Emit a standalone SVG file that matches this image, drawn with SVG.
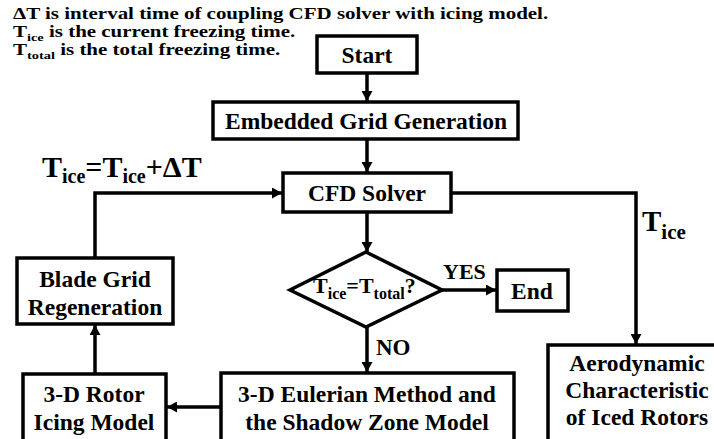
<svg xmlns="http://www.w3.org/2000/svg" width="714" height="439" viewBox="0 0 714 439">
<defs>
<marker id="arr" markerUnits="userSpaceOnUse" markerWidth="11" markerHeight="11" refX="10" refY="5.5" orient="auto">
<path d="M0,0 L10,5.5 L0,11 z" fill="#000"/>
</marker>
</defs>
<rect width="714" height="439" fill="#fff"/>

<g id="legend" transform="translate(13,0) scale(1.31,1)">
<text font-family="Liberation Serif" font-weight="bold" font-size="16" x="0" y="19">&#916;T is interval time of coupling CFD solver with icing model.</text>
<text font-family="Liberation Serif" font-weight="bold" font-size="16" x="0" y="37">T<tspan font-size="11" dy="4">ice</tspan><tspan dy="-4"> is the current freezing time.</tspan></text>
<text font-family="Liberation Serif" font-weight="bold" font-size="16" x="0" y="55">T<tspan font-size="11" dy="4">total</tspan><tspan dy="-4"> is the total freezing time.</tspan></text>
</g>

<g id="connectors" fill="none" stroke="#000" stroke-width="3.5">
<line x1="367" y1="73" x2="367" y2="101" marker-end="url(#arr)"/>
<line x1="367" y1="139" x2="367" y2="172" marker-end="url(#arr)"/>
<line x1="367" y1="212" x2="367" y2="252" marker-end="url(#arr)"/>
<line x1="442" y1="290" x2="496" y2="290" marker-end="url(#arr)"/>
<line x1="367" y1="327" x2="367" y2="372" marker-end="url(#arr)"/>
<line x1="221" y1="407" x2="167" y2="407" marker-end="url(#arr)"/>
<line x1="95" y1="374" x2="95" y2="325" marker-end="url(#arr)"/>
<polyline points="95,258 95,193 282,193" marker-end="url(#arr)"/>
<polyline points="451,193 636,193 636,344" marker-end="url(#arr)"/>
</g>
<g id="connector-labels" font-family="Liberation Serif" font-weight="bold" fill="#000">
<text font-family="Liberation Serif" font-weight="bold" x="42" y="177" font-size="30">T<tspan font-size="20" dy="6">ice</tspan><tspan dy="-6">=T</tspan><tspan font-size="20" dy="6">ice</tspan><tspan dy="-6">+&#916;T</tspan></text>
<text font-family="Liberation Serif" font-weight="bold" x="642" y="231" font-size="29">T<tspan font-size="21" dy="8">ice</tspan></text>
<text font-family="Liberation Serif" font-weight="bold" x="443" y="279" font-size="22">YES</text>
<text font-family="Liberation Serif" font-weight="bold" x="376" y="355" font-size="23">NO</text>
</g>

<g id="start">
<rect fill="#fff" stroke="#000" stroke-width="3.5" x="317" y="36" width="100" height="37"/>
<text font-family="Liberation Serif" font-weight="bold" font-size="23.5" text-anchor="middle" x="367" y="63">Start</text>
</g>
<g id="embedded">
<rect fill="#fff" stroke="#000" stroke-width="3.5" x="213" y="102" width="305" height="37"/>
<text font-family="Liberation Serif" font-weight="bold" font-size="23.5" text-anchor="middle" x="366" y="129">Embedded Grid Generation</text>
</g>
<g id="cfd">
<rect fill="#fff" stroke="#000" stroke-width="3.5" x="283" y="173" width="168" height="39"/>
<text font-family="Liberation Serif" font-weight="bold" font-size="23.5" text-anchor="middle" x="367" y="201">CFD Solver</text>
</g>
<g id="decision">
<polygon fill="#fff" stroke="#000" stroke-width="3.5" points="366,252 442,290 366,327 290,290"/>
<text font-family="Liberation Serif" font-weight="bold" x="313" y="293" font-size="22">T<tspan font-size="16" dy="6">ice</tspan><tspan dy="-6">=T</tspan><tspan font-size="16" dy="6">total</tspan><tspan dy="-6">?</tspan></text>
</g>
<g id="end">
<rect fill="#fff" stroke="#000" stroke-width="3.5" x="497" y="270" width="71" height="41"/>
<text font-family="Liberation Serif" font-weight="bold" font-size="23.5" text-anchor="middle" x="532" y="299">End</text>
</g>
<g id="blade">
<rect fill="#fff" stroke="#000" stroke-width="3.5" x="17" y="258" width="156" height="66"/>
<text font-family="Liberation Serif" font-weight="bold" font-size="23.5" text-anchor="middle" x="95" y="287">Blade Grid</text>
<text font-family="Liberation Serif" font-weight="bold" font-size="23.5" text-anchor="middle" x="95" y="315">Regeneration</text>
</g>
<g id="rotor">
<rect fill="#fff" stroke="#000" stroke-width="3.5" x="23" y="374" width="143" height="80"/>
<text font-family="Liberation Serif" font-weight="bold" font-size="23.5" text-anchor="middle" x="94" y="402">3-D Rotor</text>
<text font-family="Liberation Serif" font-weight="bold" font-size="23.5" text-anchor="middle" x="94" y="430">Icing Model</text>
</g>
<g id="eulerian">
<rect fill="#fff" stroke="#000" stroke-width="3.5" x="221" y="373" width="293" height="80"/>
<text font-family="Liberation Serif" font-weight="bold" font-size="23.5" text-anchor="middle" x="367" y="402">3-D Eulerian Method and</text>
<text font-family="Liberation Serif" font-weight="bold" font-size="23.5" text-anchor="middle" x="367" y="430">the Shadow Zone Model</text>
</g>
<g id="aero">
<rect fill="#fff" stroke="#000" stroke-width="3.5" x="548" y="345" width="180" height="110"/>
<text font-family="Liberation Serif" font-weight="bold" font-size="23.5" text-anchor="middle" x="637" y="371">Aerodynamic</text>
<text font-family="Liberation Serif" font-weight="bold" font-size="23.5" text-anchor="middle" x="637" y="398">Characteristic</text>
<text font-family="Liberation Serif" font-weight="bold" font-size="23.5" text-anchor="middle" x="637" y="425">of Iced Rotors</text>
</g>
</svg>
